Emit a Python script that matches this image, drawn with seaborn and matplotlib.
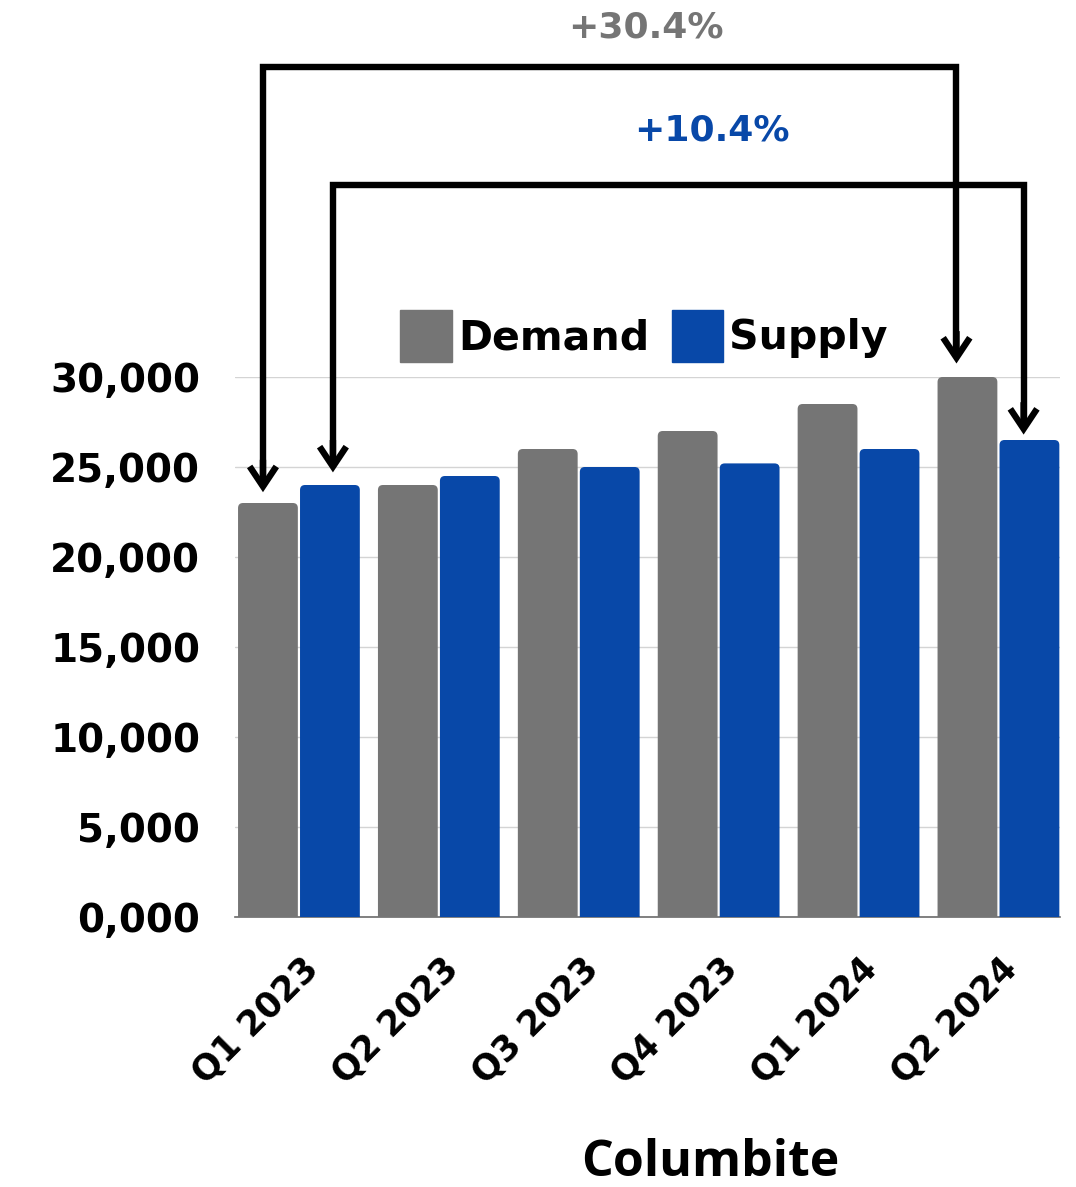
import matplotlib
matplotlib.use("Agg")
import matplotlib.pyplot as plt
import matplotlib.patches as mpatches
import matplotlib.transforms as mtransforms
import seaborn as sns
import pandas as pd

quarters = ["Q1 2023", "Q2 2023", "Q3 2023", "Q4 2023", "Q1 2024", "Q2 2024"]
demand = [23000, 24000, 26000, 27000, 28500, 30000]
supply = [24000, 24500, 25000, 25200, 26000, 26500]
series = ["Demand", "Supply"]
ytick_values = [0, 5000, 10000, 15000, 20000, 25000, 30000]
ytick_labels = ["0,000", "5,000", "10,000", "15,000", "20,000", "25,000", "30,000"]
demand_change = "+30.4%"
supply_change = "+10.4%"
x_title = "Columbite"

GRAY = "#757575"
BLUE = "#0848A8"
FONT = ["DejaVu Sans"]

df = pd.DataFrame({
    "quarter": quarters * 2,
    "value": demand + supply,
    "series": [series[0]] * len(quarters) + [series[1]] * len(quarters),
})

sns.set_theme(style="white")
plt.rcParams["font.family"] = FONT
plt.rcParams["text.color"] = "black"
plt.rcParams["axes.labelcolor"] = "black"
plt.rcParams["xtick.color"] = "black"
plt.rcParams["ytick.color"] = "black"

fig = plt.figure(figsize=(10.76, 11.87), dpi=100)
ax = fig.add_axes([235 / 1076, 270 / 1187, 825 / 1076, 540 / 1187])

sns.barplot(data=df, x="quarter", y="value", hue="series", order=quarters,
            hue_order=series, palette=[GRAY, BLUE], width=0.886, gap=0.035,
            saturation=1, ax=ax, legend=False, zorder=3)

ax.set_ylim(0, 30000)
ax.set_xlim(-0.457, 5.44)

# soften the top corners of each bar (bottom corners fall below the axis and are clipped)
px_x = 1 / 140.0
px_y = 30000 / 540.0
for bar in list(ax.patches):
    x0, w, h = bar.get_x(), bar.get_width(), bar.get_height()
    if w <= 0 or h <= 0:
        continue
    rounded = mpatches.FancyBboxPatch(
        (x0, -600), w, h + 600,
        boxstyle=f"round,pad=0,rounding_size={5 * px_x}",
        mutation_aspect=px_y / px_x,
        facecolor=bar.get_facecolor(), edgecolor="none", zorder=3)
    bar.remove()
    ax.add_patch(rounded)
    rounded.set_clip_path(ax.patch)

ax.set_yticks(ytick_values)
ax.set_yticklabels(ytick_labels, fontsize=28, fontweight="bold")
ax.tick_params(axis="y", length=0, pad=25)
ax.tick_params(axis="x", length=0, pad=6)
ax.set_xticks(range(len(quarters)))
ax.set_xticklabels(quarters, rotation=45, ha="right", va="center",
                   rotation_mode="anchor", fontsize=25, fontweight="bold")
for lab in ax.get_xticklabels():
    lab.set_transform(lab.get_transform() +
                      mtransforms.ScaledTranslation(0.14, -0.38, fig.dpi_scale_trans))

ax.yaxis.grid(True, color="#d4d4d4", lw=1, zorder=0)
ax.set_axisbelow(True)
for side in ["top", "right", "left"]:
    ax.spines[side].set_visible(False)
ax.spines["bottom"].set_color("#6b6b6b")
ax.spines["bottom"].set_linewidth(1.2)
ax.set_ylabel("")
ax.set_xlabel(x_title, fontsize=36, fontweight="bold", family=["Open Sans", "DejaVu Sans"],
              va="center", color="black")
ax.xaxis.set_label_coords(0.576, -0.455)


def bracket(x_left, x_right, y_left, y_right, y_top, color_text, text, text_x, text_y):
    ax.plot([x_left, x_left, x_right, x_right], [y_left + 350, y_top, y_top, y_right + 350],
            color="black", lw=4.6, clip_on=False, solid_capstyle="butt",
            solid_joinstyle="miter", zorder=5)
    for xx, yy in [(x_left, y_left), (x_right, y_right)]:
        ax.annotate("", xy=(xx, yy), xytext=(xx, yy + 1800), annotation_clip=False,
                    arrowprops=dict(arrowstyle="->,head_length=1.2,head_width=0.8",
                                    lw=4.6, color="black", shrinkA=0, shrinkB=0,
                                    joinstyle="miter", capstyle="butt"),
                    zorder=6)
    ax.text(text_x, text_y, text, color=color_text, fontsize=26, fontweight="bold",
            ha="center", va="center", clip_on=False)


bracket(-0.257, 4.70, demand[0] + 600, demand[-1] + 750, 47200, GRAY,
        demand_change, 2.48, 49400)
bracket(0.243, 5.18, supply[0] + 700, supply[-1] + 300, 40650, BLUE,
        supply_change, 2.95, 43700)

handles = [mpatches.Patch(color=GRAY, label=series[0]),
           mpatches.Patch(color=BLUE, label=series[1])]
leg = fig.legend(handles=handles, loc="center", bbox_to_anchor=(644 / 1076, 1 - 336 / 1187),
                 ncol=2, frameon=False, handlelength=1.25, handleheight=1.6,
                 handletextpad=0.15, columnspacing=0.55,
                 prop=dict(family=FONT, size=29.5, weight="bold"))

fig.savefig("out.png", dpi=100, facecolor="white")
